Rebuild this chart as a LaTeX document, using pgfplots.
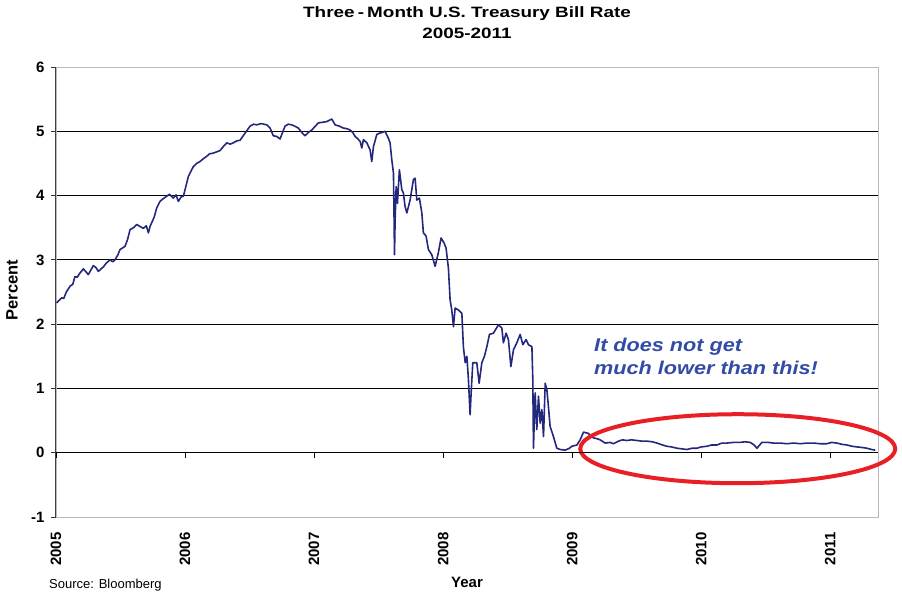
\documentclass[border=0pt]{standalone}
\usepackage{pgfplots}
\pgfplotsset{compat=1.18}
\usepackage{pgfplotstable}
\usepackage{fontspec}
\setmainfont{Liberation Sans}
\definecolor{navy}{RGB}{36,40,125}
\definecolor{annblue}{RGB}{50,75,165}
\definecolor{ellred}{RGB}{232,32,38}
\pgfplotstableread{
x y
2005.005 2.33
2005.020 2.36
2005.044 2.41
2005.060 2.40
2005.080 2.50
2005.109 2.59
2005.130 2.62
2005.147 2.74
2005.165 2.73
2005.180 2.78
2005.212 2.86
2005.230 2.82
2005.250 2.77
2005.270 2.84
2005.289 2.91
2005.310 2.88
2005.328 2.82
2005.350 2.86
2005.367 2.89
2005.390 2.95
2005.419 3.00
2005.440 2.97
2005.457 3.00
2005.480 3.08
2005.496 3.16
2005.535 3.21
2005.555 3.32
2005.574 3.47
2005.600 3.50
2005.626 3.55
2005.650 3.52
2005.677 3.49
2005.700 3.53
2005.716 3.42
2005.729 3.52
2005.760 3.66
2005.781 3.81
2005.806 3.91
2005.830 3.95
2005.858 3.99
2005.880 4.02
2005.909 3.96
2005.930 4.01
2005.948 3.91
2005.970 3.98
2005.987 3.99
2006.000 4.09
2006.026 4.30
2006.064 4.45
2006.090 4.50
2006.116 4.53
2006.140 4.57
2006.168 4.61
2006.190 4.65
2006.219 4.66
2006.245 4.68
2006.271 4.70
2006.300 4.77
2006.323 4.82
2006.350 4.80
2006.374 4.82
2006.400 4.85
2006.426 4.86
2006.465 4.97
2006.504 5.08
2006.530 5.11
2006.556 5.10
2006.590 5.12
2006.633 5.10
2006.659 5.05
2006.684 4.93
2006.710 4.92
2006.736 4.88
2006.775 5.08
2006.800 5.11
2006.827 5.10
2006.850 5.08
2006.878 5.05
2006.905 4.98
2006.930 4.93
2006.955 4.98
2006.982 5.02
2007.033 5.13
2007.065 5.14
2007.098 5.15
2007.137 5.19
2007.163 5.10
2007.195 5.08
2007.227 5.05
2007.255 5.04
2007.279 5.02
2007.300 4.98
2007.318 4.92
2007.340 4.88
2007.357 4.84
2007.370 4.74
2007.382 4.87
2007.409 4.82
2007.434 4.71
2007.447 4.53
2007.460 4.76
2007.486 4.95
2007.505 4.97
2007.525 4.98
2007.550 5.00
2007.576 4.89
2007.589 4.82
2007.602 4.56
2007.615 4.35
2007.620 3.62
2007.623 3.08
2007.628 3.62
2007.636 4.14
2007.646 3.88
2007.661 4.40
2007.680 4.09
2007.692 4.04
2007.705 3.83
2007.719 3.73
2007.744 3.93
2007.770 4.25
2007.783 4.27
2007.796 3.93
2007.816 3.96
2007.835 3.73
2007.847 3.42
2007.868 3.37
2007.886 3.16
2007.912 3.08
2007.938 2.90
2007.963 3.11
2007.984 3.34
2008.008 3.26
2008.023 3.18
2008.041 2.87
2008.054 2.38
2008.067 2.22
2008.080 1.96
2008.093 2.25
2008.119 2.22
2008.145 2.17
2008.157 1.65
2008.171 1.40
2008.184 1.50
2008.196 1.14
2008.209 0.59
2008.217 0.93
2008.230 1.40
2008.261 1.40
2008.279 1.08
2008.300 1.40
2008.320 1.50
2008.339 1.65
2008.359 1.84
2008.390 1.86
2008.429 1.99
2008.455 1.94
2008.467 1.71
2008.488 1.86
2008.506 1.76
2008.525 1.34
2008.545 1.60
2008.571 1.71
2008.597 1.84
2008.618 1.68
2008.643 1.76
2008.661 1.68
2008.688 1.65
2008.695 1.14
2008.700 0.07
2008.713 0.93
2008.726 0.36
2008.739 0.88
2008.752 0.46
2008.765 0.67
2008.778 0.25
2008.791 1.08
2008.804 0.98
2008.816 0.72
2008.829 0.41
2008.855 0.25
2008.881 0.07
2008.907 0.05
2008.946 0.04
2008.979 0.07
2008.998 0.10
2009.036 0.12
2009.062 0.20
2009.088 0.32
2009.126 0.30
2009.165 0.23
2009.190 0.22
2009.217 0.20
2009.240 0.17
2009.256 0.15
2009.295 0.16
2009.320 0.14
2009.359 0.18
2009.390 0.20
2009.424 0.19
2009.460 0.20
2009.502 0.19
2009.540 0.18
2009.579 0.18
2009.620 0.17
2009.657 0.15
2009.700 0.12
2009.734 0.10
2009.770 0.09
2009.812 0.07
2009.850 0.06
2009.889 0.05
2009.930 0.07
2009.967 0.07
2010.000 0.09
2010.044 0.10
2010.080 0.12
2010.122 0.12
2010.160 0.15
2010.199 0.15
2010.250 0.16
2010.302 0.16
2010.340 0.17
2010.380 0.16
2010.410 0.12
2010.432 0.07
2010.470 0.16
2010.520 0.16
2010.560 0.15
2010.610 0.15
2010.664 0.14
2010.720 0.15
2010.767 0.14
2010.820 0.15
2010.870 0.15
2010.920 0.14
2010.974 0.14
2011.010 0.16
2011.052 0.15
2011.090 0.13
2011.129 0.12
2011.170 0.10
2011.207 0.09
2011.250 0.08
2011.284 0.07
2011.320 0.05
2011.349 0.04
}\tbill
\begin{document}
\begin{tikzpicture}
\useasboundingbox (-56pt,-76pt) rectangle (846pt,517pt);
\begin{axis}[
  at={(0,0)}, anchor=south west,
  scale only axis, width=822pt, height=450pt,
  xmin=2005, xmax=2011.37, ymin=-1, ymax=6,
  clip=false,
  axis line style={draw=gray!55, line width=0.8pt},
  ytick={-1,0,1,2,3,4,5,6},
  yticklabels={-1,0,1,2,3,4,5,6},
  ymajorgrids, grid style={black, line width=0.9pt},
  ytick pos=left, xtick pos=bottom,
  tick align=outside, major tick length=5pt,
  ytick style={black!80, line width=0.8pt},
  xtick={2005,2006,2007,2008,2009,2010,2011},
  xticklabels={2005,2006,2007,2008,2009,2010,2011},
  xtick style={draw=none},
  xticklabel style={rotate=90, anchor=east, font=\bfseries\fontsize{15}{15}\selectfont},
  xticklabel shift=7pt,
  yticklabel shift=3pt,
  yticklabel style={font=\bfseries\fontsize{15}{15}\selectfont},
]
\addplot[navy, line width=1.6pt, line join=round] table[x=x, y=y] {\tbill};
\draw[black!75, line width=1pt] (rel axis cs:0,0) -- (rel axis cs:0,1);
\draw[ellred, line width=4pt] (axis cs:2010.283,0.062) ellipse [x radius=157.5pt, y radius=34.5pt];
\end{axis}
\begin{axis}[
  at={(0,0)}, anchor=south west,
  scale only axis, width=822pt, height=450pt,
  xmin=2005, xmax=2011.37, ymin=-1, ymax=6,
  axis x line=middle, axis y line=none,
  x axis line style={-, black, line width=1pt},
  xtick={2005,2006,2007,2008,2009,2010,2011},
  xticklabels={}, ytick=\empty,
  tick align=outside, major tick length=5pt,
  xtick style={black, line width=0.8pt},
]
\end{axis}
\node[anchor=base, xscale=1.26, font=\bfseries\fontsize{15}{15}\selectfont] at (411pt,499.5pt) {Three\,-\,Month U.S. Treasury Bill Rate};
\node[anchor=base, xscale=1.26, font=\bfseries\fontsize{15}{15}\selectfont] at (411pt,478.5pt) {2005-2011};
\node[rotate=90, font=\bfseries\fontsize{16.5}{16.5}\selectfont] at (-44pt,227pt) {Percent};
\node[anchor=base, font=\bfseries\fontsize{15}{15}\selectfont] at (411pt,-71pt) {Year};
\node[anchor=base west, inner sep=0pt, font=\fontsize{13}{13}\selectfont] at (-7pt,-71.5pt) {Source: Bloomberg};
\node[anchor=base west, inner sep=0pt, xscale=1.17, text=annblue, font=\bfseries\itshape\fontsize{18.5}{18.5}\selectfont] at (538pt,165.3pt) {It does not get};
\node[anchor=base west, inner sep=0pt, xscale=1.17, text=annblue, font=\bfseries\itshape\fontsize{18.5}{18.5}\selectfont] at (538pt,142pt) {much lower than this!};
\end{tikzpicture}
\end{document}
